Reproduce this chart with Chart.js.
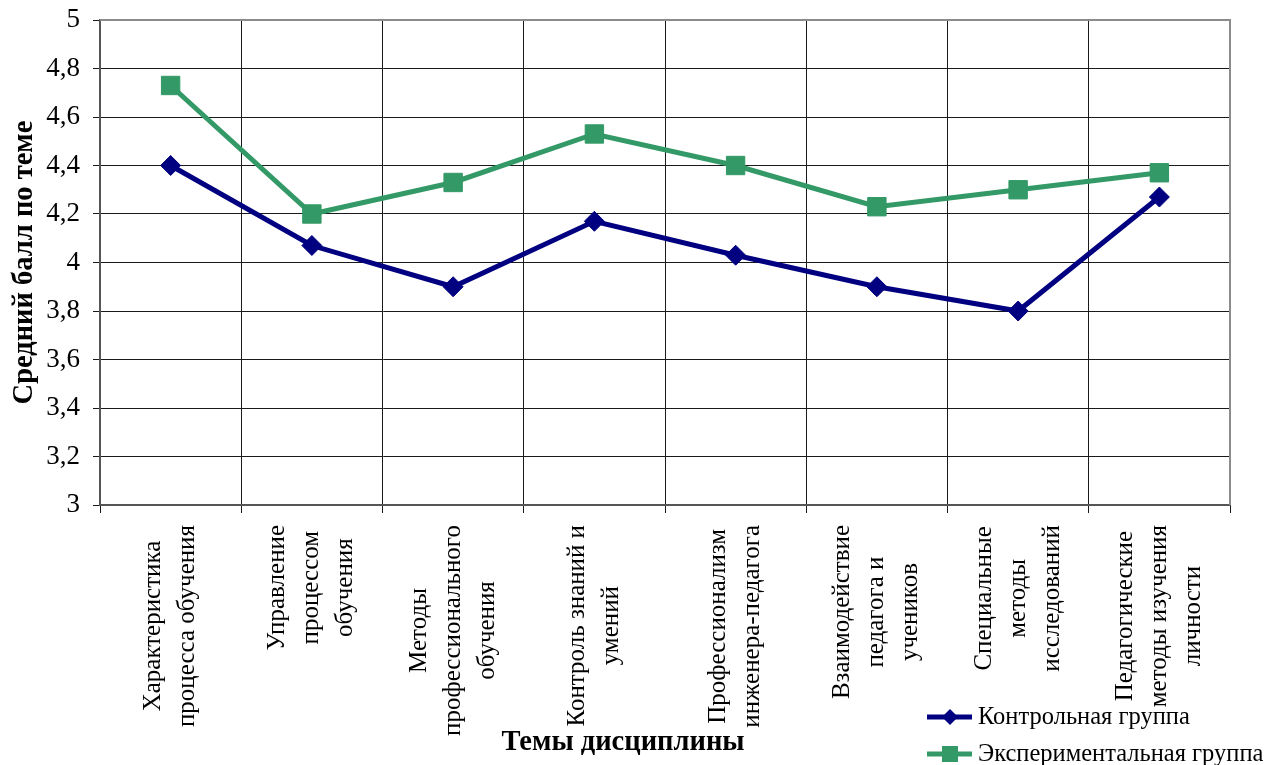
<!DOCTYPE html>
<html>
<head>
<meta charset="utf-8">
<script src="https://cdn.jsdelivr.net/npm/chart.js@4.4.1/dist/chart.umd.min.js"></script>
<style>
  html, body { margin: 0; padding: 0; background: #fff; }
  #wrap { width: 1267px; height: 765px; position: relative; }
</style>
</head>
<body>
<div id="wrap"><canvas id="c" width="1267" height="765"></canvas></div>
<script>
// Topics of the course (each entry split into the lines shown under the axis)
const categories = [
  ['Характеристика', 'процесса обучения'],
  ['Управление', 'процессом', 'обучения'],
  ['Методы', 'профессионального', 'обучения'],
  ['Контроль знаний и', 'умений'],
  ['Профессионализм', 'инженера-педагога'],
  ['Взаимодействие', 'педагога и', 'учеников'],
  ['Специальные', 'методы', 'исследований'],
  ['Педагогические', 'методы изучения', 'личности']
];

// Average score per topic
const controlScores = [4.40, 4.07, 3.90, 4.17, 4.03, 3.90, 3.80, 4.27];
const experimentalScores = [4.73, 4.20, 4.33, 4.53, 4.40, 4.23, 4.30, 4.37];

const seriesNames = ['Контрольная группа', 'Экспериментальная группа'];
const yTickLabels = ['3', '3,2', '3,4', '3,6', '3,8', '4', '4,2', '4,4', '4,6', '4,8', '5'];

const yTitle = 'Средний балл по теме';
const xTitle = 'Темы дисциплины';

const NAVY = '#000080';
const GREEN = '#339966';
const SERIF = '"Liberation Serif", "Times New Roman", serif';

// Draws the rotated multi-line category labels, axis titles, frame and legend
const decorations = {
  id: 'decorations',
  afterDraw(chart) {
    const ctx = chart.ctx;
    const area = chart.chartArea;
    const xs = chart.scales.x;

    // frame on the top and right sides of the plot
    ctx.save();
    ctx.strokeStyle = '#8c8c8c';
    ctx.lineWidth = 2;
    ctx.beginPath();
    ctx.moveTo(area.left, area.top);
    ctx.lineTo(area.right, area.top);
    ctx.lineTo(area.right, area.bottom);
    ctx.stroke();
    ctx.restore();

    // category labels, read bottom-to-top, lines centred on each other
    ctx.save();
    ctx.font = '25px ' + SERIF;
    ctx.fillStyle = '#000';
    ctx.textAlign = 'center';
    ctx.textBaseline = 'middle';
    const lineGap = 34;
    const labelTop = area.bottom + 20;
    categories.forEach((lines, i) => {
      const cx = xs.getPixelForValue(i);
      const widest = Math.max(...lines.map(l => ctx.measureText(l).width));
      const cy = labelTop + widest / 2;
      lines.forEach((line, j) => {
        const off = (j - (lines.length - 1) / 2) * lineGap;
        ctx.save();
        ctx.translate(cx + off, cy);
        ctx.rotate(-Math.PI / 2);
        ctx.fillText(line, 0, 0);
        ctx.restore();
      });
    });
    ctx.restore();

    // axis titles
    ctx.save();
    ctx.fillStyle = '#000';
    ctx.font = 'bold 28.5px ' + SERIF;
    ctx.textAlign = 'center';
    ctx.textBaseline = 'middle';
    ctx.save();
    ctx.translate(25, (area.top + area.bottom) / 2);
    ctx.rotate(-Math.PI / 2);
    ctx.fillText(yTitle, 0, 0);
    ctx.restore();
    ctx.fillText(xTitle, 623, 743);
    ctx.restore();

    // legend
    const entries = [
      { name: seriesNames[0], color: NAVY, shape: 'diamond', y: 717 },
      { name: seriesNames[1], color: GREEN, shape: 'square', y: 754 }
    ];
    ctx.save();
    ctx.font = '24.5px ' + SERIF;
    ctx.textAlign = 'left';
    ctx.textBaseline = 'middle';
    entries.forEach(e => {
      ctx.strokeStyle = e.color;
      ctx.fillStyle = e.color;
      ctx.lineWidth = 5;
      ctx.beginPath();
      ctx.moveTo(927, e.y);
      ctx.lineTo(972, e.y);
      ctx.stroke();
      ctx.beginPath();
      if (e.shape === 'diamond') {
        const r = 8;
        ctx.moveTo(950 - r, e.y);
        ctx.lineTo(950, e.y - r);
        ctx.lineTo(950 + r, e.y);
        ctx.lineTo(950, e.y + r);
        ctx.closePath();
      } else {
        ctx.rect(950 - 8, e.y - 8, 16, 16);
      }
      ctx.fill();
      ctx.fillStyle = '#000';
      ctx.fillText(e.name, 978, e.y + 1);
    });
    ctx.restore();
  }
};

new Chart(document.getElementById('c'), {
  type: 'line',
  data: {
    labels: categories.map(c => c.join(' ')),
    datasets: [
      {
        label: seriesNames[0],
        data: controlScores,
        borderColor: NAVY,
        backgroundColor: NAVY,
        borderWidth: 5,
        pointStyle: 'rectRot',
        pointRadius: 10,
        pointBorderWidth: 1,
        tension: 0
      },
      {
        label: seriesNames[1],
        data: experimentalScores,
        borderColor: GREEN,
        backgroundColor: GREEN,
        borderWidth: 5,
        pointStyle: 'rect',
        pointRadius: 13,
        pointBorderWidth: 1,
        tension: 0
      }
    ]
  },
  options: {
    responsive: false,
    animation: false,
    events: [],
    layout: { padding: { top: 20, right: 37, left: 0, bottom: 0 } },
    plugins: {
      legend: { display: false },
      tooltip: { enabled: false }
    },
    scales: {
      x: {
        offset: true,
        grid: {
          offset: true,
          color: '#1a1a1a',
          lineWidth: 1,
          tickLength: 8,
          drawTicks: true
        },
        border: { display: true, color: '#555', width: 2 },
        ticks: { display: false },
        afterFit(scale) {
          scale.height = 260;
          scale.paddingLeft = 0;
          scale.paddingRight = 0;
        }
      },
      y: {
        min: 3,
        max: 5,
        grid: {
          color: '#1a1a1a',
          lineWidth: 1,
          tickLength: 7
        },
        border: { display: true, color: '#555', width: 2 },
        ticks: {
          stepSize: 0.2,
          padding: 13,
          color: '#000',
          font: { family: SERIF, size: 27 },
          callback: (v, i) => yTickLabels[i]
        },
        afterFit(scale) {
          scale.width = 100;
          scale.paddingTop = 0;
          scale.paddingBottom = 0;
        }
      }
    }
  },
  plugins: [decorations]
});
</script>
</body>
</html>
